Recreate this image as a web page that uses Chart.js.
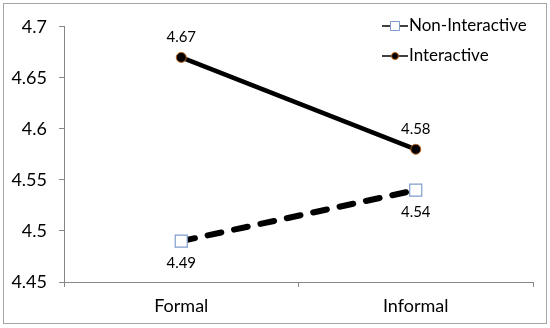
<!DOCTYPE html>
<html>
<head>
<meta charset="utf-8">
<script src="https://cdn.jsdelivr.net/npm/chart.js@4.4.1/dist/chart.umd.min.js"></script>
<style>
  body { margin: 0; background: #fff; }
  #wrap {
    position: absolute; left: 3px; top: 3px;
    width: 542px; height: 319px;
    border: 1px solid #a6a6a6;
  }
</style>
</head>
<body>
<div id="wrap"><canvas id="grafico"></canvas></div>
<script>
const categorias = ["Formal", "Informal"];
const nonInteractive = [4.49, 4.54];
const interactive = [4.67, 4.58];
const yTicks = [4.45, 4.5, 4.55, 4.6, 4.65, 4.7];

const fuente = "Lato, 'Open Sans', sans-serif";

// etiquetas de valores junto a cada punto
const etiquetas = {
  id: "etiquetas",
  afterDatasetsDraw(chart) {
    const ctx = chart.ctx;
    ctx.save();
    ctx.font = "15px " + fuente;
    ctx.fillStyle = "#000";
    ctx.textAlign = "center";
    ctx.textBaseline = "middle";
    chart.data.datasets.forEach((ds, i) => {
      const meta = chart.getDatasetMeta(i);
      meta.data.forEach((pt, j) => {
        const dy = ds.etiquetaArriba ? -20 : 22;
        ctx.fillText(ds.data[j].toFixed(2), pt.x, pt.y + dy);
      });
    });
    ctx.restore();
  }
};

// leyenda dentro del área del gráfico
const leyenda = {
  id: "leyenda",
  afterDraw(chart) {
    const ctx = chart.ctx;
    ctx.save();
    ctx.font = "17px " + fuente;
    ctx.textBaseline = "middle";
    ctx.textAlign = "left";
    const x0 = 378, y0 = 22, paso = 30;
    chart.data.datasets.forEach((ds, i) => {
      const y = y0 + i * paso;
      ctx.strokeStyle = "#000";
      ctx.lineWidth = 1.5;
      ctx.beginPath();
      ctx.moveTo(x0, y);
      ctx.lineTo(x0 + 26, y);
      ctx.stroke();
      ctx.fillStyle = ds.pointBackgroundColor;
      ctx.strokeStyle = ds.pointBorderColor;
      ctx.lineWidth = 1;
      ctx.beginPath();
      if (ds.pointStyle === "rect") {
        ctx.rect(x0 + 13 - 4.5, y - 4.5, 9, 9);
      } else {
        ctx.arc(x0 + 13, y, 3.5, 0, Math.PI * 2);
      }
      ctx.fill();
      ctx.stroke();
      ctx.fillStyle = "#000";
      ctx.fillText(ds.label, x0 + 27, y);
    });
    ctx.restore();
  }
};

const ctx = document.getElementById("grafico").getContext("2d");

new Chart(ctx, {
  type: "line",
  data: {
    labels: categorias,
    datasets: [
      {
        label: "Non-Interactive",
        data: nonInteractive,
        borderColor: "#000",
        borderWidth: 6,
        borderDash: [14, 13],
        borderCapStyle: "round",
        pointStyle: "rect",
        pointRadius: 8.5,
        pointBackgroundColor: "#fff",
        pointBorderColor: "#7f9dcb",
        pointBorderWidth: 1.2,
        etiquetaArriba: false
      },
      {
        label: "Interactive",
        data: interactive,
        borderColor: "#000",
        borderWidth: 4.5,
        pointStyle: "circle",
        pointRadius: 5,
        pointBackgroundColor: "#000",
        pointBorderColor: "#c0651a",
        pointBorderWidth: 1,
        etiquetaArriba: true
      }
    ]
  },
  options: {
    responsive: true,
    maintainAspectRatio: false,
    animation: false,
    layout: { padding: { left: 0, right: 13, top: 18, bottom: 0 } },
    plugins: {
      legend: { display: false },
      tooltip: { enabled: false }
    },
    scales: {
      x: {
        offset: true,
        grid: {
          offset: true,
          drawOnChartArea: false,
          drawTicks: true,
          tickLength: 5,
          color: "#868686"
        },
        border: { color: "#868686", width: 1 },
        ticks: {
          color: "#000",
          font: { family: fuente, size: 18 },
          padding: 8
        },
        afterFit: scale => { scale.height = 41; }
      },
      y: {
        min: 4.45,
        max: 4.7,
        afterBuildTicks: scale => {
          scale.ticks = yTicks.map(v => ({ value: v }));
        },
        grid: {
          drawOnChartArea: false,
          drawTicks: true,
          tickLength: 5,
          color: "#868686"
        },
        border: { color: "#868686", width: 1 },
        ticks: {
          color: "#000",
          font: { family: fuente, size: 18 },
          padding: 12,
          callback: v => parseFloat(v.toFixed(2)).toString()
        },
        afterFit: scale => { scale.width = 60; }
      }
    }
  },
  plugins: [etiquetas, leyenda]
});
</script>
</body>
</html>
